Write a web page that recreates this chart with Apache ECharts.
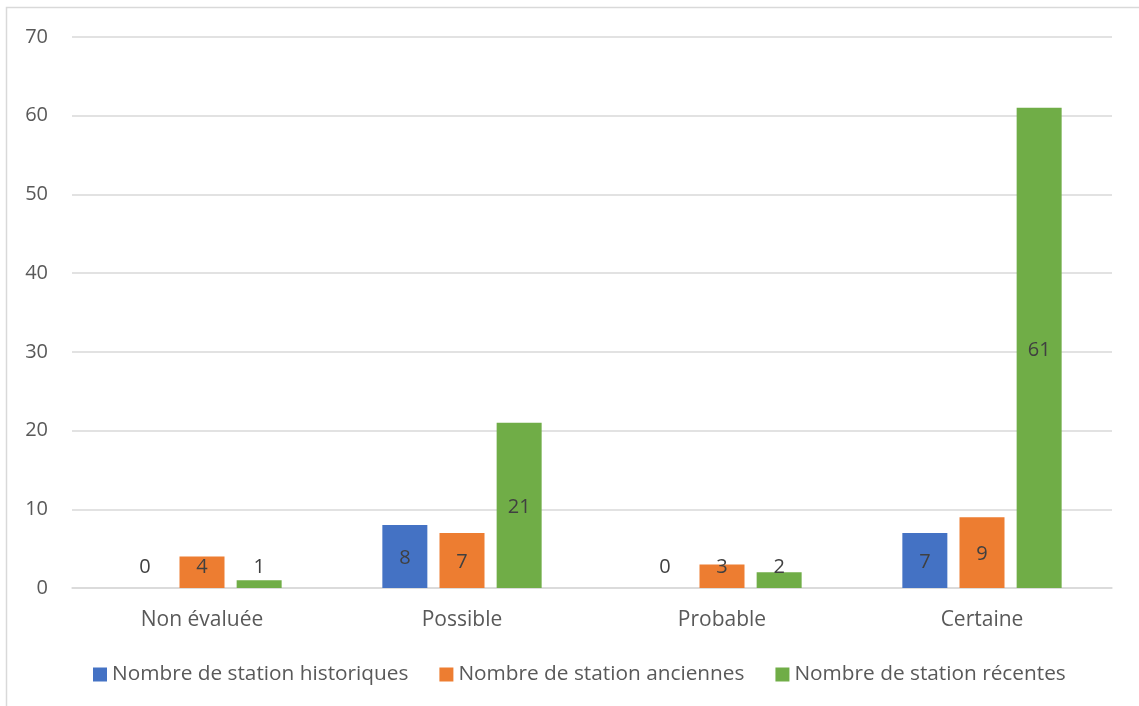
<!DOCTYPE html>
<html>
<head>
<meta charset="utf-8">
<style>
  html, body { margin: 0; padding: 0; background: #ffffff; }
  #chart { width: 1139px; height: 706px; }
</style>
<script src="https://cdn.jsdelivr.net/npm/echarts@6/dist/echarts.min.js"></script>
</head>
<body>
<div id="chart"></div>
<script>
// Categories of presence and station counts per period
const categories = ['Non évaluée', 'Possible', 'Probable', 'Certaine'];
const historiques = [0, 8, 0, 7];
const anciennes = [4, 7, 3, 9];
const recentes = [1, 21, 2, 61];
const seriesNames = [
  'Nombre de station historiques',
  'Nombre de station anciennes',
  'Nombre de station récentes'
];
const seriesColors = ['#4472C4', '#ED7D31', '#70AD47'];

const FONT = '"Open Sans", "Noto Sans", sans-serif';

// Short bars get their label lifted to a common line just above the axis
function toData(values) {
  return values.map(v => {
    if (v <= 4) {
      return { value: v, label: { position: 'insideBottom', distance: 13 } };
    }
    return v;
  });
}

const chart = echarts.init(document.getElementById('chart'), null, { renderer: 'canvas' });

const series = [historiques, anciennes, recentes].map((vals, i) => ({
  name: seriesNames[i],
  type: 'bar',
  data: toData(vals),
  barWidth: 45,
  barGap: '27%',
  itemStyle: { color: seriesColors[i] },
  label: {
    show: true,
    position: 'inside',
    offset: [0, 2],
    color: '#404040',
    fontFamily: FONT,
    fontSize: 20
  },
  emphasis: { disabled: true }
}));

chart.setOption({
  animation: false,
  backgroundColor: '#ffffff',
  graphic: [{
    type: 'rect',
    shape: { x: 6.5, y: 7.5, width: 1200, height: 800 },
    style: { fill: 'none', stroke: '#d9d9d9', lineWidth: 1.5 },
    silent: true,
    z: -1
  }],
  grid: { left: 72, right: 27, top: 37, bottom: 118, containLabel: false },
  legend: {
    bottom: 16,
    left: 88,
    itemWidth: 14,
    itemHeight: 14,
    itemGap: 31,
    icon: 'rect',
    textStyle: { color: '#595959', fontFamily: FONT, fontSize: 20.8 },
    data: seriesNames
  },
  xAxis: {
    type: 'category',
    data: categories,
    axisLine: { lineStyle: { color: '#d9d9d9', width: 1.5 } },
    axisTick: { show: false },
    axisLabel: { color: '#595959', fontFamily: FONT, fontSize: 21, margin: 22 }
  },
  yAxis: {
    type: 'value',
    min: 0,
    max: 70,
    interval: 10,
    axisLine: { show: false },
    axisTick: { show: false },
    splitLine: { lineStyle: { color: '#d9d9d9', width: 1.5 } },
    axisLabel: { color: '#595959', fontFamily: FONT, fontSize: 20, margin: 24 }
  },
  series: series
});
</script>
</body>
</html>
